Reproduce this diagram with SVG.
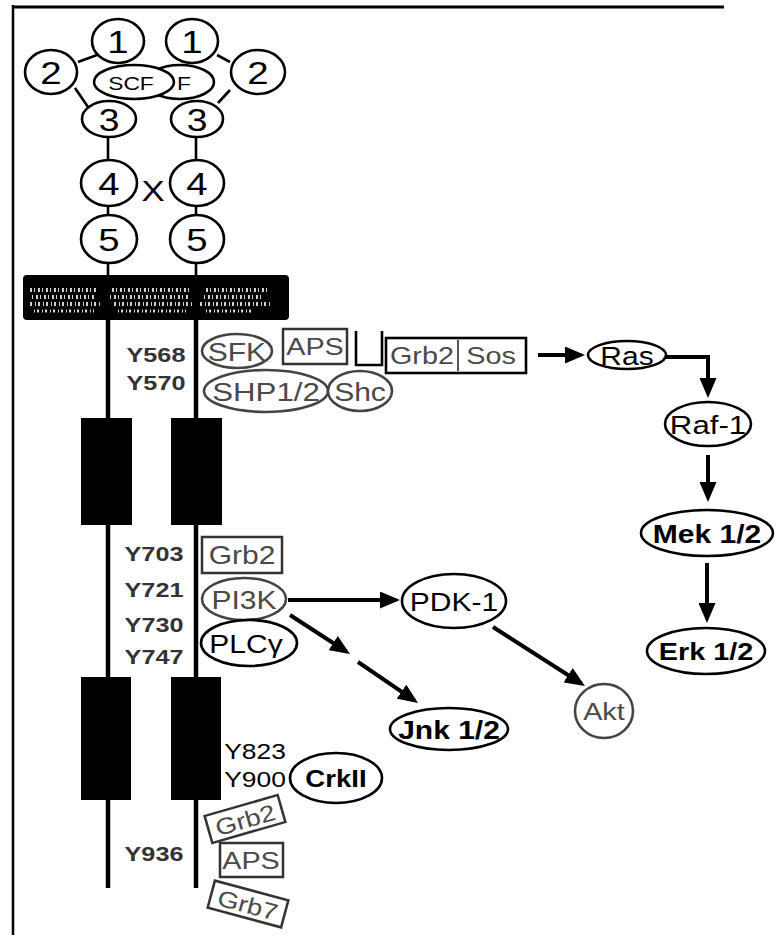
<svg xmlns="http://www.w3.org/2000/svg" width="782" height="944" viewBox="0 0 782 944">
<style>
.t{font-family:"Liberation Sans",Arial,sans-serif;text-anchor:middle;dominant-baseline:central;transform:scaleX(1.2);transform-box:fill-box;transform-origin:center}
.b{font-weight:bold}
.g{fill:#4a4a4a}
.ek{fill:#fff;stroke:#000;stroke-width:2.6}
.eg{fill:#fff;stroke:#444;stroke-width:2.6}
.bx{fill:#fff;stroke:#333;stroke-width:2.5}
.ln{stroke:#000;stroke-width:2.6;fill:none}
.ch{stroke:#000;stroke-width:4.5;fill:none}
.ar{stroke:#000;stroke-width:4;fill:none;marker-end:url(#ah)}
.sp{stroke:#d0d0d0;fill:none}
</style>
<defs>
<marker id="ah" viewBox="0 0 20 17" markerWidth="20" markerHeight="17" refX="16" refY="8.5" orient="auto" markerUnits="userSpaceOnUse">
<path d="M0,0 L20,8.5 L0,17 z" fill="#000"/>
</marker>
</defs>
<rect width="782" height="944" fill="#fff"/>
<path d="M13,7 H724" stroke="#000" stroke-width="3"/>
<path d="M13,5 V935" stroke="#000" stroke-width="2.5"/>

<g id="receptor">
<path class="ln" d="M78,62 L97,55 M75,88 L88,107 M230,62 L217,55 M230,90 L218,103"/>
<path class="ln" d="M108,137 V160 M108,206 V216 M108,262 V276 M196,137 V160 M196,206 V216 M196,262 V276"/>
<path class="ch" d="M108,318 V888 M196,318 V888"/>
<rect x="23" y="275" width="266" height="45" rx="4" fill="#000"/>
<path class="sp" stroke-width="4" d="M30,290 H98 M112,290 H190 M206,290 H268" stroke-dasharray="2 2 1 3"/>
<path class="sp" stroke-width="4" d="M32,297 H96 M110,297 H188 M204,297 H262" stroke-dasharray="1 3 2 2"/>
<path class="sp" stroke-width="4" d="M30,304 H100 M114,304 H192 M200,304 H272" stroke-dasharray="2 3 1 2"/>
<path class="sp" stroke-width="3" d="M34,311 H94 M118,311 H186 M206,311 H252" stroke-dasharray="1 2 2 3"/>
<rect x="81" y="418" width="51" height="107" fill="#000"/>
<rect x="171" y="418" width="51" height="107" fill="#000"/>
<rect x="81" y="677" width="50" height="123" fill="#000"/>
<rect x="171" y="677" width="50" height="123" fill="#000"/>
</g>

<g id="d1L"><ellipse class="ek" cx="118" cy="41" rx="26" ry="22"/><text class="t" x="118" y="42" font-size="32">1</text></g>
<g id="d1R"><ellipse class="ek" cx="192" cy="41" rx="26" ry="22"/><text class="t" x="192" y="42" font-size="32">1</text></g>
<g id="d2L"><ellipse class="ek" cx="51" cy="72" rx="26" ry="22"/><text class="t" x="51" y="73" font-size="32">2</text></g>
<g id="d2R"><ellipse class="ek" cx="258" cy="72" rx="27" ry="22"/><text class="t" x="258" y="73" font-size="32">2</text></g>
<g id="ligand">
<ellipse class="ek" cx="180" cy="82" rx="34" ry="17"/><text class="t" x="184" y="83" font-size="19">F</text>
<ellipse class="ek" cx="134" cy="82" rx="40" ry="17"/><text class="t" x="131" y="83" font-size="19">SCF</text>
</g>
<g id="d3L"><ellipse class="ek" cx="109" cy="119" rx="27" ry="18"/><text class="t" x="109" y="120" font-size="31">3</text></g>
<g id="d3R"><ellipse class="ek" cx="197" cy="119" rx="26" ry="18"/><text class="t" x="197" y="120" font-size="31">3</text></g>
<g id="d4L"><ellipse class="ek" cx="109" cy="183" rx="28" ry="23"/><text class="t" x="109" y="184" font-size="32">4</text></g>
<g id="d4R"><ellipse class="ek" cx="197" cy="183" rx="27" ry="23"/><text class="t" x="197" y="184" font-size="32">4</text></g>
<g id="d5L"><ellipse class="ek" cx="109" cy="239" rx="28" ry="24"/><text class="t" x="109" y="240" font-size="32">5</text></g>
<g id="d5R"><ellipse class="ek" cx="197" cy="239" rx="27" ry="24"/><text class="t" x="197" y="240" font-size="32">5</text></g>
<g id="x"><text class="t" x="153" y="191" font-size="29">X</text></g>

<g id="ylabels">
<text class="t b" x="156" y="355" font-size="21" fill="#333">Y568</text>
<text class="t b" x="156" y="383" font-size="21" fill="#333">Y570</text>
<text class="t b" x="154" y="554" font-size="21" fill="#333">Y703</text>
<text class="t b" x="154" y="590" font-size="21" fill="#333">Y721</text>
<text class="t b" x="154" y="625" font-size="21" fill="#333">Y730</text>
<text class="t b" x="154" y="657" font-size="21" fill="#333">Y747</text>
<text class="t" x="255" y="751" font-size="22">Y823</text>
<text class="t" x="255" y="779" font-size="22">Y900</text>
<text class="t b" x="154" y="854" font-size="21" fill="#333">Y936</text>
</g>

<g id="connectors">
<path class="ar" d="M538,355 H581"/>
<path class="ar" d="M664,357 H708 V394"/>
<path class="ar" d="M708,455 V498"/>
<path class="ar" d="M707,563 V619"/>
<path class="ar" d="M288,600 H396"/>
<path class="ar" d="M493,627 L581.6,683.8"/>
<path class="ar" d="M290,615 L346.6,651.8"/>
<path class="ar" d="M358,662 L414.7,700.7"/>
</g>

<g id="SFK"><ellipse class="eg" cx="237" cy="351" rx="35" ry="17"/><text class="t g" x="237" y="352" font-size="25">SFK</text></g>
<g id="APS1"><rect class="bx" x="283" y="329" width="64" height="35"/><text class="t g" x="315" y="347" font-size="24">APS</text><path class="ln" stroke="#333" d="M356,331 V365 H382 V331"/></g>
<g id="Grb2Sos"><rect x="386" y="338" width="140" height="35" fill="#fff" stroke="#000" stroke-width="2.6"/><path d="M458,340 V371" stroke="#555" stroke-width="2"/><text class="t g" x="422" y="356" font-size="24">Grb2</text><text class="t g" x="491" y="356" font-size="24">Sos</text></g>
<g id="SHP"><ellipse class="eg" cx="266" cy="391" rx="62" ry="21"/><text class="t g" x="266" y="392" font-size="26">SHP1/2</text></g>
<g id="Shc"><ellipse class="eg" cx="360" cy="391" rx="32" ry="20"/><text class="t g" x="360" y="392" font-size="25">Shc</text></g>
<g id="Ras"><ellipse class="ek" cx="627" cy="355" rx="39" ry="14"/><text class="t" x="627" y="356" font-size="25">Ras</text></g>
<g id="Raf1"><ellipse class="ek" cx="708" cy="424" rx="43" ry="22"/><text class="t" x="708" y="425" font-size="26">Raf-1</text></g>
<g id="Mek"><ellipse class="ek" cx="707" cy="533" rx="66" ry="23"/><text class="t b" x="707" y="534" font-size="25">Mek 1/2</text></g>
<g id="Erk"><ellipse class="ek" cx="706" cy="651" rx="59" ry="23"/><text class="t b" x="706" y="652" font-size="24">Erk 1/2</text></g>
<g id="Grb2a"><rect class="bx" x="202" y="537" width="80" height="36"/><text class="t g" x="242" y="555" font-size="25">Grb2</text></g>
<g id="PI3K"><ellipse class="eg" cx="244" cy="599" rx="42" ry="21"/><text class="t g" x="244" y="600" font-size="25">PI3K</text></g>
<g id="PLCg"><ellipse class="ek" cx="249" cy="643" rx="48" ry="23"/><text class="t" x="246" y="644" font-size="25">PLCγ</text></g>
<g id="PDK1"><ellipse class="ek" cx="454" cy="601" rx="52" ry="27"/><text class="t" x="454" y="602" font-size="25">PDK-1</text></g>
<g id="Akt"><ellipse class="eg" cx="604" cy="711" rx="29" ry="27"/><text class="t g" x="604" y="712" font-size="24">Akt</text></g>
<g id="Jnk"><ellipse class="ek" cx="449" cy="729" rx="59" ry="21"/><text class="t b" x="449" y="730" font-size="25">Jnk 1/2</text></g>
<g id="CrkII"><ellipse class="ek" cx="336" cy="778" rx="46" ry="25"/><text class="t b" x="336" y="779" font-size="23">CrkII</text></g>
<g id="Grb2b" transform="rotate(-16 245 819)"><rect class="bx" x="207" y="805" width="76" height="28"/><text class="t g" x="245" y="820" font-size="23">Grb2</text></g>
<g id="APS2"><rect class="bx" x="220" y="843" width="63" height="34"/><text class="t g" x="251" y="861" font-size="24">APS</text></g>
<g id="Grb7" transform="rotate(15 248 904)"><rect class="bx" x="210" y="890" width="76" height="28"/><text class="t g" x="248" y="905" font-size="23">Grb7</text></g>
</svg>
